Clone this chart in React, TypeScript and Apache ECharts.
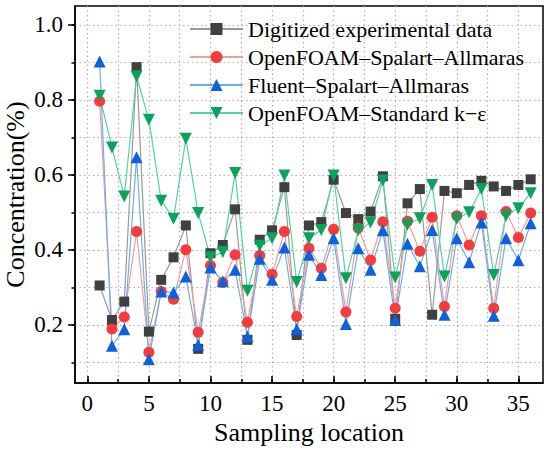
import React, { useEffect, useRef } from "react";
import * as echarts from "echarts";

const locations = [
  1, 2, 3, 4, 5, 6, 7, 8, 9, 10, 11, 12, 13, 14, 15, 16, 17, 18,
  19, 20, 21, 22, 23, 24, 25, 26, 27, 28, 29, 30, 31, 32, 33, 34, 35, 36,
];

const experimental = [
  0.305, 0.213, 0.262, 0.887, 0.182, 0.32, 0.38, 0.465, 0.136, 0.391, 0.413, 0.508,
  0.16, 0.427, 0.452, 0.567, 0.173, 0.465, 0.474, 0.587, 0.498, 0.482, 0.502, 0.596,
  0.216, 0.524, 0.562, 0.227, 0.557, 0.551, 0.573, 0.584, 0.569, 0.557, 0.573, 0.588,
];

const openfoamSA = [
  0.796, 0.189, 0.221, 0.449, 0.127, 0.289, 0.268, 0.4, 0.18, 0.358, 0.313, 0.387,
  0.207, 0.385, 0.335, 0.449, 0.222, 0.404, 0.351, 0.455, 0.234, 0.458, 0.373, 0.475,
  0.244, 0.476, 0.396, 0.487, 0.249, 0.491, 0.413, 0.491, 0.244, 0.502, 0.433, 0.498,
];

const fluentSA = [
  0.902, 0.144, 0.188, 0.647, 0.108, 0.289, 0.286, 0.329, 0.147, 0.353, 0.316, 0.347,
  0.169, 0.376, 0.32, 0.406, 0.188, 0.387, 0.333, 0.431, 0.202, 0.404, 0.347, 0.452,
  0.213, 0.416, 0.356, 0.453, 0.227, 0.431, 0.367, 0.473, 0.224, 0.431, 0.372, 0.471,
];

const openfoamKE = [
  0.811, 0.673, 0.542, 0.862, 0.747, 0.531, 0.483, 0.696, 0.498, 0.38, 0.394, 0.605,
  0.291, 0.411, 0.431, 0.598, 0.314, 0.431, 0.453, 0.598, 0.324, 0.452, 0.473, 0.585,
  0.326, 0.467, 0.484, 0.573, 0.329, 0.483, 0.5, 0.562, 0.333, 0.491, 0.511, 0.551,
];

const seriesNames = [
  "Digitized experimental data",
  "OpenFOAM–Spalart–Allmaras",
  "Fluent–Spalart–Allmaras",
  "OpenFOAM–Standard k−ε",
];

const xMajorTicks = [0, 5, 10, 15, 20, 25, 30, 35];
const xMinorTicks = [0, 2.5, 5, 7.5, 10, 12.5, 15, 17.5, 20, 22.5, 25, 27.5, 30, 32.5, 35];
const yMajorTicks = [0.2, 0.4, 0.6, 0.8, 1.0];
const yMinorTicks = [0.1, 0.2, 0.3, 0.4, 0.5, 0.6, 0.7, 0.8, 0.9, 1.0];

const FONT = '"Liberation Serif", "Times New Roman", serif';

const pairs = (vals: number[]) => locations.map((x, i) => [x, vals[i]]);

export default function App() {
  const ref = useRef<HTMLDivElement>(null);

  useEffect(() => {
    if (!ref.current) return;
    const chart = echarts.init(ref.current, undefined, { renderer: "svg" });

    const gridLine = {
      show: true,
      lineStyle: { color: "#b0b0b0", width: 1.2, type: [1.5, 3] as any },
    };

    const mk = (
      name: string,
      vals: number[],
      symbol: string,
      size: number,
      mcolor: string,
      lcolor: string,
      rotate = 0
    ) => ({
      name,
      type: "line",
      data: pairs(vals),
      symbol,
      symbolSize: size,
      symbolRotate: rotate,
      itemStyle: { color: mcolor },
      lineStyle: { color: lcolor, width: 1.2 },
      emphasis: { disabled: true },
    });

    chart.setOption({
      animation: false,
      grid: {
        left: 75,
        right: 7,
        top: 6,
        bottom: 66,
        show: true,
        borderColor: "#000",
        borderWidth: 1.5,
        outerBoundsMode: "none",
      },
      legend: {
        orient: "vertical",
        left: 184,
        top: 13,
        itemWidth: 53,
        itemHeight: 15,
        itemGap: 6,
        textStyle: { fontFamily: FONT, fontSize: 22, color: "#000", lineHeight: 22 },
        data: seriesNames,
      },
      xAxis: [
        {
          type: "value",
          min: -1,
          max: 37,
          position: "bottom",
          axisLine: { show: true, onZero: false, lineStyle: { color: "#000", width: 1.5 } },
          axisTick: {
            show: true,
            inside: true,
            length: 7,
            customValues: xMajorTicks,
            lineStyle: { color: "#000", width: 1.5 },
          },
          axisLabel: {
            customValues: xMajorTicks,
            fontFamily: FONT,
            fontSize: 23,
            color: "#000",
            margin: 9,
          },
          splitLine: { show: false },
          name: "Sampling location",
          nameLocation: "middle",
          nameGap: 36,
          nameMoveOverlap: false,
          nameTextStyle: { fontFamily: FONT, fontSize: 26, color: "#000" },
        },
        {
          type: "value",
          min: -1,
          max: 37,
          position: "bottom",
          axisLine: { show: false, onZero: false },
          axisTick: {
            show: true,
            inside: true,
            length: 4,
            customValues: xMinorTicks,
            lineStyle: { color: "#000", width: 1.5 },
          },
          axisLabel: { show: false },
          splitLine: gridLine,
        },
      ],
      yAxis: [
        {
          type: "value",
          min: 0.045,
          max: 1.05,
          position: "left",
          axisLine: { show: true, onZero: false, lineStyle: { color: "#000", width: 1.5 } },
          axisTick: {
            show: true,
            inside: false,
            length: 7,
            customValues: yMajorTicks,
            lineStyle: { color: "#000", width: 1.5 },
          },
          axisLabel: {
            customValues: yMajorTicks,
            fontFamily: FONT,
            fontSize: 23,
            color: "#000",
            margin: 12,
            formatter: (v: number) => v.toFixed(1),
          },
          splitLine: { show: false },
          name: "Concentration(%)",
          nameLocation: "middle",
          nameGap: 47,
          nameMoveOverlap: false,
          nameTextStyle: { fontFamily: FONT, fontSize: 26, color: "#000" },
        },
        {
          type: "value",
          min: 0.045,
          max: 1.05,
          position: "left",
          axisLine: { show: false, onZero: false },
          axisTick: {
            show: true,
            inside: false,
            length: 3.5,
            customValues: yMinorTicks,
            lineStyle: { color: "#000", width: 1.5 },
          },
          axisLabel: { show: false },
          splitLine: gridLine,
        },
      ],
      series: [
        mk(seriesNames[0], experimental, "rect", 10, "#404040", "#9a9a9a"),
        mk(seriesNames[1], openfoamSA, "circle", 11, "#f53b3b", "#f59a9a"),
        mk(seriesNames[2], fluentSA, "triangle", 12, "#0c62dc", "#6aaeef"),
        mk(seriesNames[3], openfoamKE, "triangle", 12, "#0aa35c", "#52d3a2", 180),
      ],
    });

    return () => chart.dispose();
  }, []);

  return (
    <div
      ref={ref}
      style={{ position: "fixed", left: 0, top: 0, width: 550, height: 449, background: "#fff" }}
    />
  );
}
